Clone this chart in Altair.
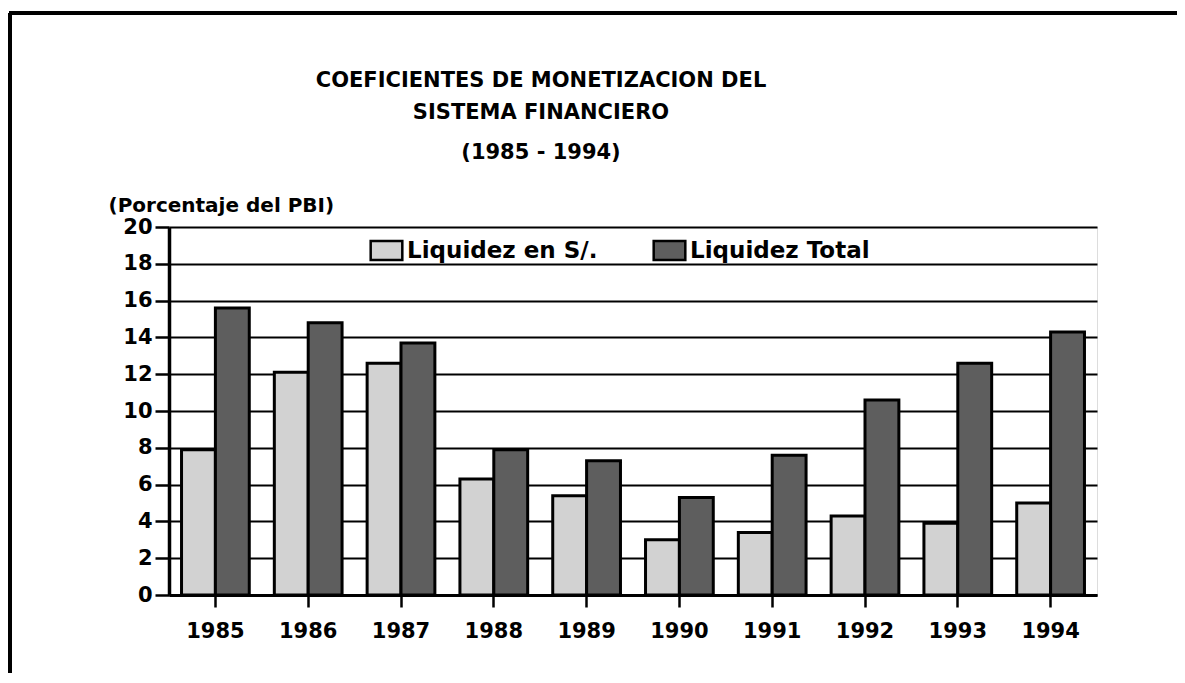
import altair as alt
import pandas as pd

years = ["1985", "1986", "1987", "1988", "1989", "1990", "1991", "1992", "1993", "1994"]
liquidez_soles = [7.9, 12.1, 12.6, 6.3, 5.4, 3.0, 3.4, 4.3, 3.9, 5.0]
liquidez_total = [15.6, 14.8, 13.7, 7.9, 7.3, 5.3, 7.6, 10.6, 12.6, 14.3]
series_names = ["Liquidez en S/.", "Liquidez Total"]
series_colors = ["#d2d2d2", "#5e5e5e"]
y_ticks = [0, 2, 4, 6, 8, 10, 12, 14, 16, 18, 20]
title_lines = ["COEFICIENTES DE MONETIZACION DEL", "SISTEMA FINANCIERO", "(1985 - 1994)"]
y_title = "(Porcentaje del PBI)"

rows = []
for i, yr in enumerate(years):
    rows.append({"year": yr, "serie": series_names[0], "value": liquidez_soles[i]})
    rows.append({"year": yr, "serie": series_names[1], "value": liquidez_total[i]})
df = pd.DataFrame(rows)

FONT = "DejaVu Sans"
W, H = 928, 368

bars = alt.Chart(df).mark_bar(stroke="black", strokeWidth=3).encode(
    x=alt.X("year:N", sort=years,
            scale=alt.Scale(paddingInner=0.27, paddingOuter=0.135),
            axis=alt.Axis(title=None, labelAngle=0, labelFont=FONT, labelFontWeight="bold",
                          labelFontSize=21, labelColor="black", labelPadding=13,
                          tickSize=12, tickWidth=2.5, tickColor="black",
                          domainColor="black", domainWidth=3, grid=False)),
    xOffset=alt.XOffset("serie:N", sort=series_names, scale=alt.Scale(paddingInner=0)),
    y=alt.Y("value:Q",
            scale=alt.Scale(domain=[0, 20], nice=False),
            axis=alt.Axis(values=y_ticks, title=y_title, titleAngle=0, titleAlign="left",
                          titleBaseline="middle", titleX=-61, titleY=-22,
                          titleFont=FONT, titleFontSize=20, titleFontWeight="bold", titleColor="black",
                          labelFont=FONT, labelFontWeight="bold", labelFontSize=21, labelColor="black",
                          labelPadding=3, tickSize=14, tickWidth=2.5, tickColor="black",
                          domainColor="black", domainWidth=3.5,
                          grid=True, gridColor="black", gridWidth=2, gridOpacity=1)),
    color=alt.Color("serie:N", sort=series_names,
                    scale=alt.Scale(domain=series_names, range=series_colors),
                    legend=alt.Legend(title=None, orient="none", legendX=200, legendY=6,
                                      direction="horizontal",
                                      symbolType="M-1,-0.6H1V0.6H-1Z", symbolSize=1000,
                                      symbolStrokeColor="black", symbolStrokeWidth=2.5,
                                      symbolOpacity=1, labelLimit=400,
                                      labelFont=FONT, labelFontWeight="bold", labelFontSize=23,
                                      labelColor="black", labelOffset=3, columnPadding=50)),
)

title_y = [-146, -114, -74]
title_layers = []
for line, ty in zip(title_lines, title_y):
    title_layers.append(
        alt.Chart(pd.DataFrame({"t": [line]})).mark_text(
            font=FONT, fontSize=21, fontWeight="bold", color="black",
            align="center", baseline="middle").encode(
            text="t:N", x=alt.value(372), y=alt.value(ty)))

frame_top = alt.Chart(df).mark_rule(color="black", strokeWidth=3).encode(
    x=alt.value(-160), x2=alt.value(1020), y=alt.value(-214))
frame_left = alt.Chart(df).mark_rule(color="black", strokeWidth=3).encode(
    x=alt.value(-159), y=alt.value(-214), y2=alt.value(460))

chart = alt.layer(bars, frame_top, frame_left, *title_layers).properties(
    width=W, height=H,
    autosize=alt.AutoSizeParams(type="none"),
    padding={"left": 161, "top": 219, "right": 80, "bottom": 78},
).configure_view(stroke="black", strokeWidth=2.5).configure(background="white")

chart.save("out.html", embed_options={"renderer": "svg", "actions": False})
